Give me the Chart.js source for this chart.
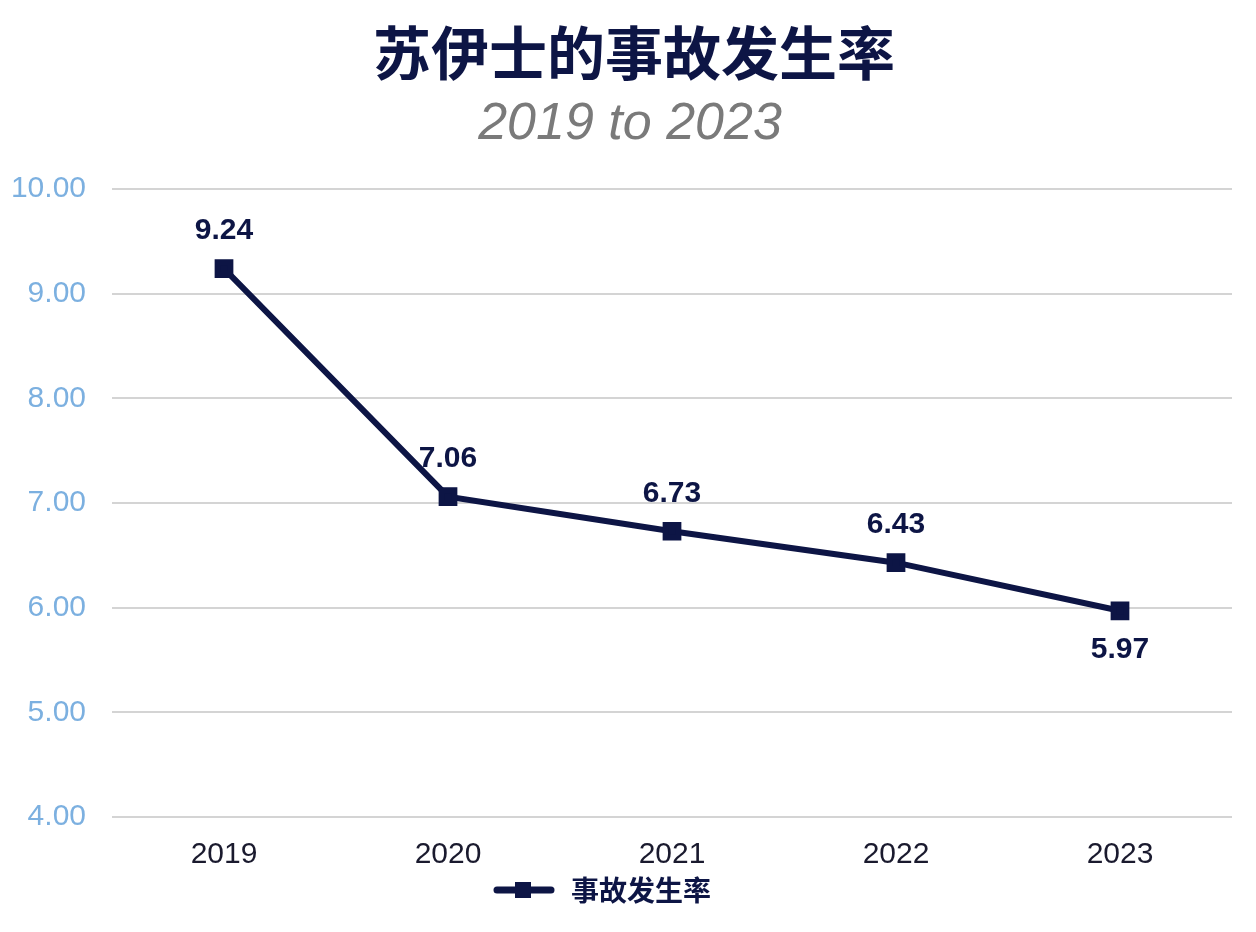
<!DOCTYPE html>
<html>
<head>
<meta charset="utf-8">
<script src="https://cdn.jsdelivr.net/npm/chart.js@4.4.1/dist/chart.umd.min.js"></script>
<style>
  html, body { margin: 0; padding: 0; background: #fff; }
  #wrap { width: 1256px; height: 932px; }
</style>
</head>
<body>
<div id="wrap"><canvas id="myChart"></canvas></div>
<script>
'use strict';
const years = ['2019', '2020', '2021', '2022', '2023'];
const rates = [9.24, 7.06, 6.73, 6.43, 5.97];
const seriesName = '事故发生率';
const titleText = '苏伊士的事故发生率';
const subtitleText = '2019 to 2023';

const navy = '#0d1545';

// title + subtitle, centred a bit right of the plot like the original
const headings = {
  id: 'headings',
  afterDraw(chart) {
    const ctx = chart.ctx;
    ctx.save();
    ctx.textAlign = 'center';
    ctx.textBaseline = 'middle';
    ctx.fillStyle = navy;
    ctx.font = 'bold 58px "Noto Sans CJK SC", sans-serif';
    ctx.fillText(titleText, 634, 53);
    ctx.fillStyle = '#7a7a7a';
    ctx.font = 'italic 52px "Liberation Sans", Arial, sans-serif';
    ctx.fillText(subtitleText, 630, 125);
    ctx.restore();
  }
};

// value labels above (or below for the last one)
const valueLabels = {
  id: 'valueLabels',
  afterDatasetsDraw(chart) {
    const ctx = chart.ctx;
    const meta = chart.getDatasetMeta(0);
    ctx.save();
    ctx.font = 'bold 30px "Liberation Sans", Arial, sans-serif';
    ctx.fillStyle = navy;
    ctx.textAlign = 'center';
    ctx.textBaseline = 'middle';
    meta.data.forEach(function (pt, i) {
      let dy = -38;
      if (i === rates.length - 1) dy = 39;
      ctx.fillText(rates[i].toFixed(2), pt.x, pt.y + dy);
    });
    ctx.restore();
  }
};

// legend: line with square marker + text
const lineLegend = {
  id: 'lineLegend',
  afterDraw(chart) {
    const ctx = chart.ctx;
    const y = 890;
    ctx.save();
    ctx.strokeStyle = navy;
    ctx.lineWidth = 7;
    ctx.lineCap = 'round';
    ctx.beginPath();
    ctx.moveTo(497, y);
    ctx.lineTo(551, y);
    ctx.stroke();
    ctx.fillStyle = navy;
    ctx.fillRect(515, y - 8, 16, 16);
    ctx.font = 'bold 28px "Noto Sans CJK SC", sans-serif';
    ctx.textBaseline = 'middle';
    ctx.fillText(seriesName, 571, y);
    ctx.restore();
  }
};

const ctx = document.getElementById('myChart').getContext('2d');
const myChart = new Chart(ctx, {
  type: 'line',
  data: {
    labels: years,
    datasets: [{
      label: seriesName,
      data: rates,
      borderColor: navy,
      backgroundColor: navy,
      borderWidth: 6,
      pointStyle: 'rect',
      pointRadius: 9,
      pointHoverRadius: 9,
      tension: 0
    }]
  },
  options: {
    responsive: true,
    maintainAspectRatio: false,
    animation: false,
    layout: { padding: { left: 0, right: 24, top: 189, bottom: 0 } },
    plugins: {
      legend: { display: false },
      tooltip: { enabled: false },
      title: { display: false }
    },
    scales: {
      x: {
        offset: true,
        grid: { display: false, drawTicks: false },
        border: { display: false },
        ticks: {
          color: '#1a1a2e',
          font: { family: '"Liberation Sans", Arial, sans-serif', size: 30 },
          padding: 20
        },
        afterFit(scale) { scale.height = 115; }
      },
      y: {
        min: 4,
        max: 10,
        grid: { color: '#d4d4d4', lineWidth: 2, drawTicks: false },
        border: { display: false },
        ticks: {
          stepSize: 1,
          color: '#7cb0e0',
          font: { family: '"Liberation Sans", Arial, sans-serif', size: 30 },
          padding: 26,
          callback: function (v) { return v.toFixed(2); }
        },
        afterFit(scale) { scale.width = 112; }
      }
    }
  },
  plugins: [headings, valueLabels, lineLegend]
});
</script>
</body>
</html>
